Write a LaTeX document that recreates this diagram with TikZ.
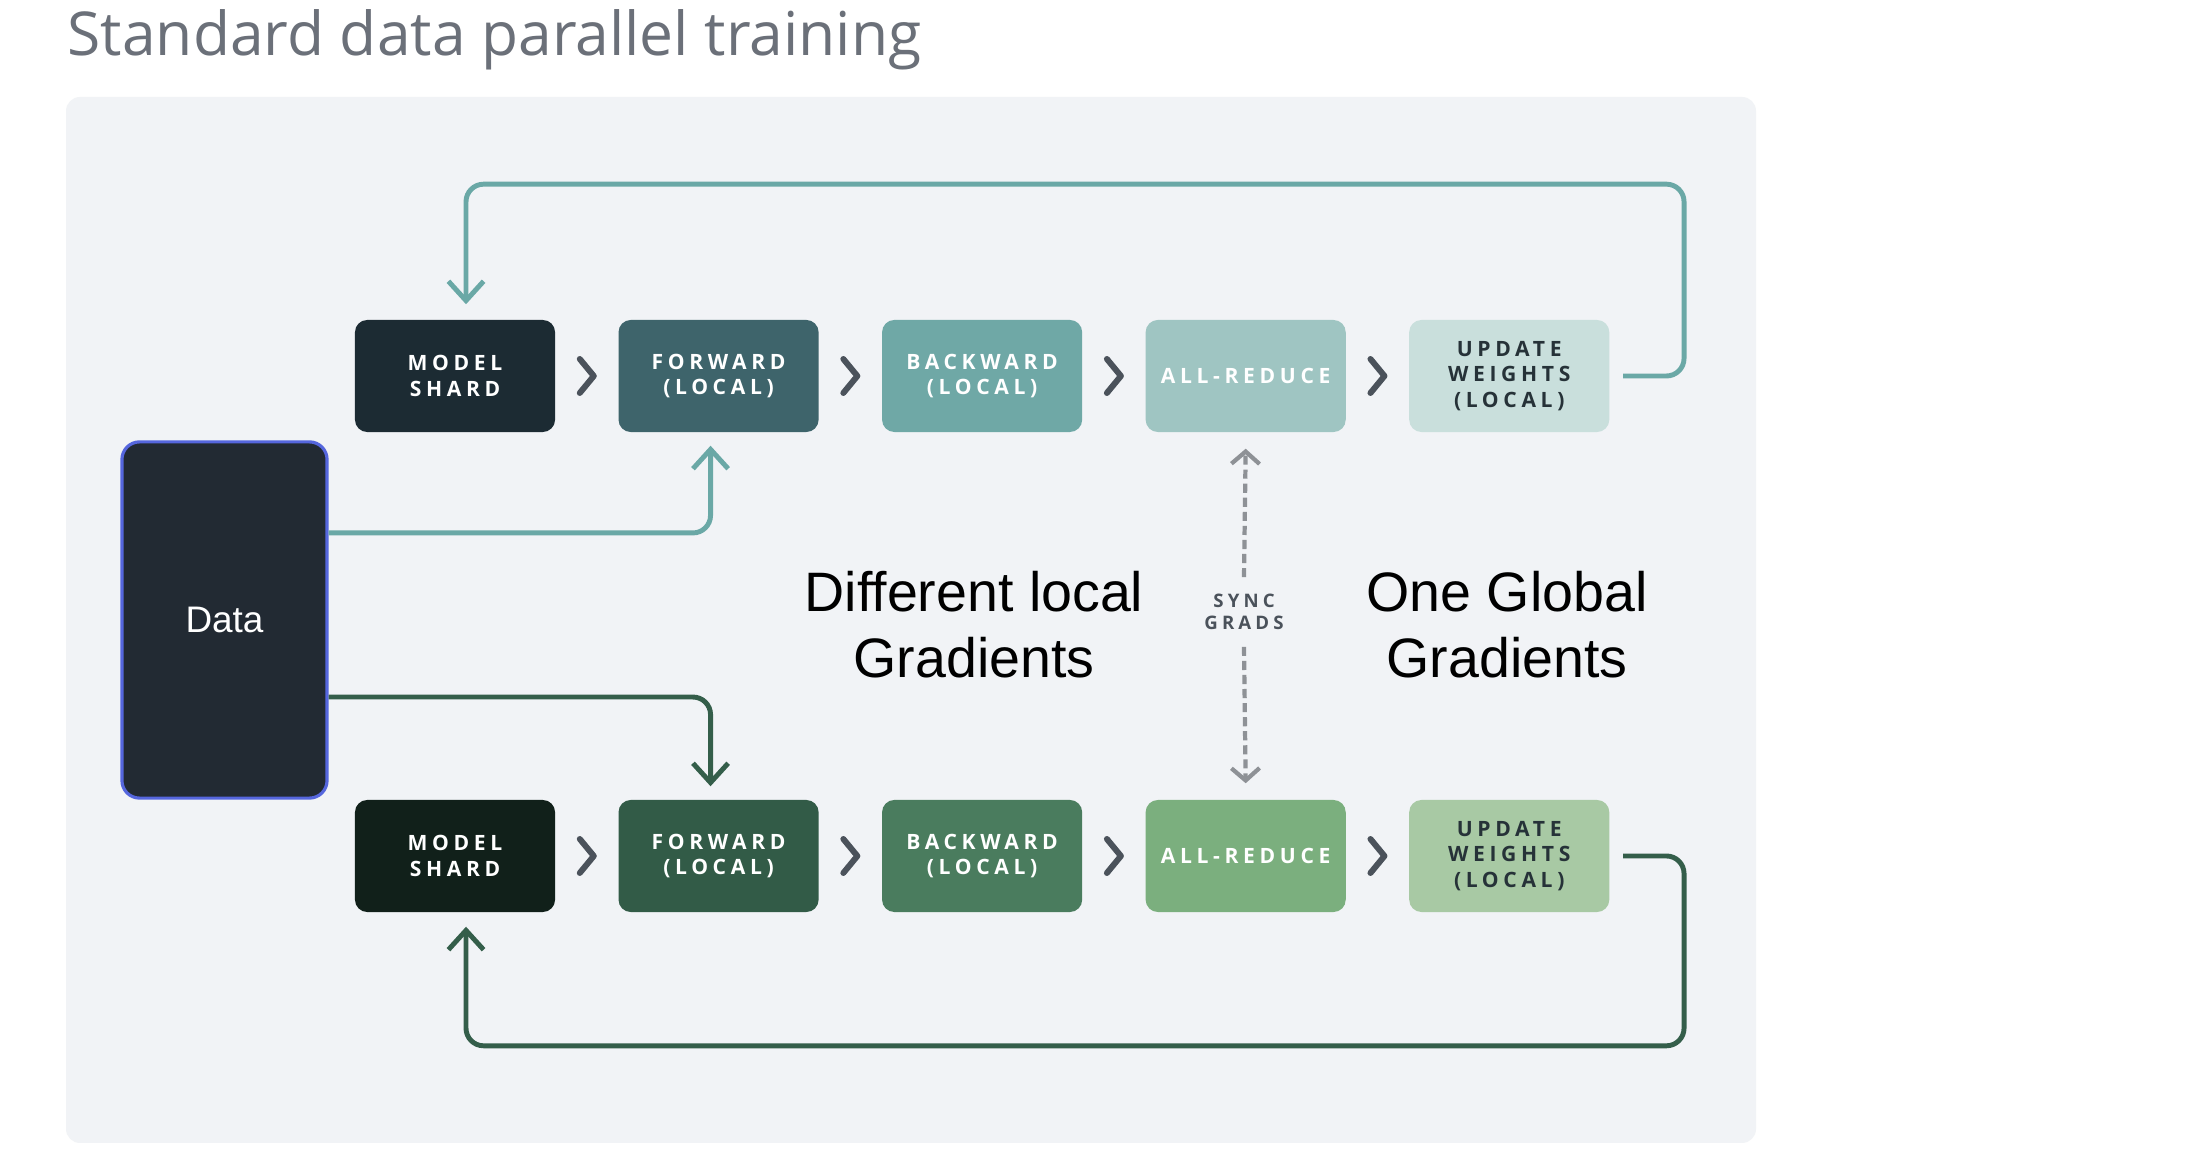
\documentclass[tikz,border=0pt]{standalone}
\usepackage{fontspec}
\setmainfont{Liberation Sans}
\newfontfamily\titlefont{Open Sans}
\newfontfamily\boxfont[LetterSpace=22]{Open Sans}
\newfontfamily\syncfont[LetterSpace=22]{Open Sans}
\usetikzlibrary{arrows.meta,positioning,calc}

\definecolor{panelbg}{HTML}{F1F3F6}
\definecolor{titlegray}{HTML}{6B7079}
\definecolor{tmodel}{HTML}{1C2B33}
\definecolor{tfwd}{HTML}{3E646B}
\definecolor{tbwd}{HTML}{6FA8A6}
\definecolor{tred}{HTML}{9FC5C2}
\definecolor{tupd}{HTML}{C9DFDC}
\definecolor{bmodel}{HTML}{11201A}
\definecolor{bfwd}{HTML}{325B47}
\definecolor{bbwd}{HTML}{4A7C5E}
\definecolor{bred}{HTML}{7BAF7E}
\definecolor{bupd}{HTML}{A8C9A4}
\definecolor{tline}{HTML}{6AA8A6}
\definecolor{bline}{HTML}{345E4A}
\definecolor{chev}{HTML}{4B525B}
\definecolor{datafill}{HTML}{222A33}
\definecolor{databorder}{HTML}{5566DD}
\definecolor{syncgray}{HTML}{8E9196}
\definecolor{darktext}{HTML}{263238}

\begin{document}
\begin{tikzpicture}[
		x=0.01cm, y=-0.01cm,
		node distance=0.62cm,
		stage/.style={rounded corners=3.5pt, minimum width=2cm, minimum height=1.12cm,
				inner sep=0pt, align=center, text=white,
				font=\boxfont\bfseries\fontsize{6}{7.2}\selectfont},
		tflow/.style={draw=tline, line width=1.4pt, rounded corners=5pt,
				-{Straight Barb[length=5.5pt,width=10pt]}},
		bflow/.style={tflow, draw=bline},
		syncline/.style={draw=syncgray, line width=1.2pt, dash pattern=on 2.6pt off 1.4pt,
				-{Straight Barb[length=3.5pt,width=8pt]}},
		bigtext/.style={align=center, inner sep=0pt, font=\fontsize{15.8}{18.8}\selectfont},
		chevron/.pic={\draw[chev, line width=1.7pt, line cap=round, line join=round]
				(-7,-17) -- (7,0) -- (-7,17);}
	]
	\useasboundingbox (0,0) rectangle (2194,1174);
	\fill[white] (0,0) rectangle (2194,1174);
	\fill[panelbg, rounded corners=4pt] (66,97) rectangle (1756,1143);

	\node[anchor=base west, inner sep=0pt, text=titlegray,
		font=\titlefont\fontsize{17.2}{20}\selectfont] (title) at (67,56)
		{Standard data parallel training};

	\node[stage, fill=tmodel] (ms1) at (455,376) {MODEL\\SHARD};
	\node[stage, fill=tfwd, right=of ms1] (fw1) {FORWARD\\(LOCAL)};
	\node[stage, fill=tbwd, right=of fw1] (bw1) {BACKWARD\\(LOCAL)};
	\node[stage, fill=tred, right=of bw1] (rd1) {ALL-REDUCE};
	\node[stage, fill=tupd, right=of rd1, text=darktext] (up1) {UPDATE\\WEIGHTS\\(LOCAL)};

	\node[stage, fill=bmodel] (ms2) at (455,856) {MODEL\\SHARD};
	\node[stage, fill=bfwd, right=of ms2] (fw2) {FORWARD\\(LOCAL)};
	\node[stage, fill=bbwd, right=of fw2] (bw2) {BACKWARD\\(LOCAL)};
	\node[stage, fill=bred, right=of bw2] (rd2) {ALL-REDUCE};
	\node[stage, fill=bupd, right=of rd2, text=darktext] (up2) {UPDATE\\WEIGHTS\\(LOCAL)};

	\foreach \a/\b in {ms1/fw1, fw1/bw1, bw1/rd1, rd1/up1, ms2/fw2, fw2/bw2, bw2/rd2, rd2/up2}
	\pic at ($(\a.east)!0.5!(\b.west)$) {chevron};

	\node[draw=databorder, line width=0.9pt, fill=datafill, rounded corners=5pt,
		minimum width=2.05cm, minimum height=3.56cm, text=white,
		font=\fontsize{10.5}{12}\selectfont] (data) at (224.5,620) {Data};

	\draw[tflow] ([xshift=0.13cm]up1.east) -| ([xshift=0.74cm,yshift=1.35cm]up1.north east)
		-| ([xshift=0.11cm,yshift=0.15cm]ms1.north);
	\draw[bflow] ([xshift=0.13cm]up2.east) -| ([xshift=0.74cm,yshift=-1.33cm]up2.south east)
		-| ([xshift=0.11cm,yshift=-0.14cm]ms2.south);
	\draw[tflow] ([yshift=0.87cm]data.east) -| ([xshift=-0.08cm,yshift=-0.13cm]fw1.south);
	\draw[bflow] ([yshift=-0.77cm]data.east) -| ([xshift=-0.08cm,yshift=0.13cm]fw2.north);

	\node[align=center, inner xsep=0pt, inner ysep=0.16cm, text=chev,
		font=\syncfont\bfseries\fontsize{5.3}{6.4}\selectfont] (sync) at (1244,612) {SYNC\\GRADS};
	\draw[syncline] (sync.north) -- ([yshift=-0.16cm]rd1.south);
	\draw[syncline] (sync.south) -- ([yshift=0.16cm]rd2.north);

	\node[bigtext] (diff) at (974,625) {Different local\\Gradients};
	\node[bigtext] (glob) at (1507,625) {One Global\\Gradients};
\end{tikzpicture}
\end{document}
